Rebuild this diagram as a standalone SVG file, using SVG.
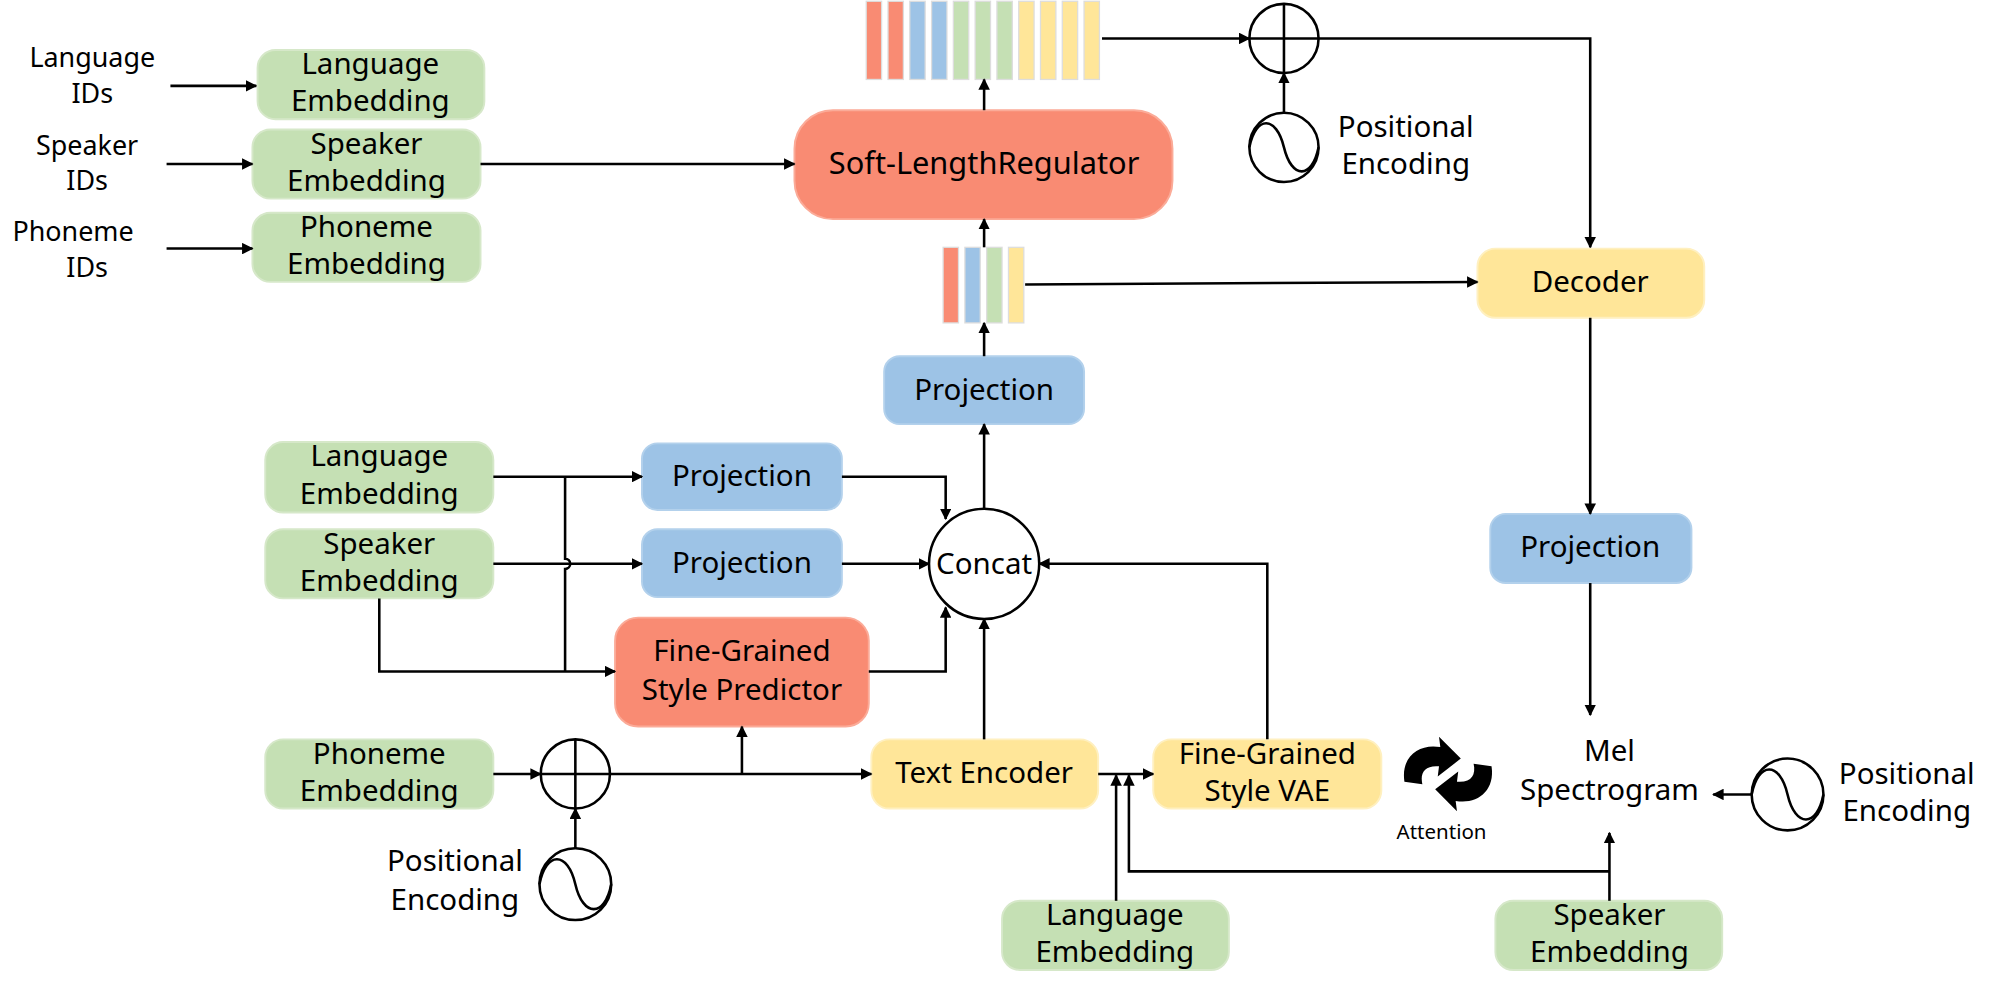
<svg xmlns="http://www.w3.org/2000/svg" width="1999" height="985" viewBox="0 0 1999 985">
<defs>
<marker id="ah" viewBox="0 0 10 10" refX="9" refY="5" markerWidth="9" markerHeight="9" markerUnits="userSpaceOnUse" orient="auto"><path d="M0,0 L10,5 L0,10 z" fill="#000"/></marker>
<style>
text{font-family:"Noto Sans","Open Sans",sans-serif;font-size:23px;fill:#000;text-anchor:middle}
.in{font-size:21px}
.g{fill:#c5e0b4;stroke:#d6e8c9;stroke-width:1.5}
.b{fill:#9dc3e6;stroke:#b3d1ec;stroke-width:1.5}
.y{fill:#ffe699;stroke:#fff0c0;stroke-width:1.5}
.r{fill:#f98b73;stroke:#fbab98;stroke-width:1.5}
.c{stroke:#000;stroke-width:2;fill:none}
.a{stroke:#000;stroke-width:2;fill:none;marker-end:url(#ah)}
.ring{fill:#fff;stroke:#000;stroke-width:2}
</style>
</defs>
<rect width="1999" height="985" fill="#fff"/>
<g transform="scale(1.2814)">
<g id="inputs">
<text class="in" x="72" y="52">Language</text><text class="in" x="72" y="80">IDs</text>
<text class="in" x="68" y="121">Speaker</text><text class="in" x="68" y="148">IDs</text>
<text class="in" x="57" y="188">Phoneme</text><text class="in" x="68" y="216">IDs</text>
</g>
<g id="lang_emb1"><rect class="g" x="201" y="39" width="177" height="54" rx="14"/><text x="289" y="58">Language</text><text x="289" y="87">Embedding</text></g>
<g id="spk_emb1"><rect class="g" x="197" y="101" width="178" height="54" rx="14"/><text x="286" y="120">Speaker</text><text x="286" y="149">Embedding</text></g>
<g id="ph_emb1"><rect class="g" x="197" y="166" width="178" height="54" rx="14"/><text x="286" y="185">Phoneme</text><text x="286" y="214">Embedding</text></g>
<g id="slr"><rect class="r" x="620" y="86" width="295" height="85" rx="30"/><text x="768" y="136" style="font-size:24px">Soft-LengthRegulator</text></g>
<g id="bars_top">
<rect x="676" y="1" width="12" height="61" fill="#f98b73" stroke="#ddd"/>
<rect x="693" y="1" width="12" height="61" fill="#f98b73" stroke="#ddd"/>
<rect x="710" y="1" width="12" height="61" fill="#9dc3e6" stroke="#ddd"/>
<rect x="727" y="1" width="12" height="61" fill="#9dc3e6" stroke="#ddd"/>
<rect x="744" y="1" width="12" height="61" fill="#c5e0b4" stroke="#ddd"/>
<rect x="761" y="1" width="12" height="61" fill="#c5e0b4" stroke="#ddd"/>
<rect x="778" y="1" width="12" height="61" fill="#c5e0b4" stroke="#ddd"/>
<rect x="795" y="1" width="12" height="61" fill="#ffe699" stroke="#ddd"/>
<rect x="812" y="1" width="12" height="61" fill="#ffe699" stroke="#ddd"/>
<rect x="829" y="1" width="12" height="61" fill="#ffe699" stroke="#ddd"/>
<rect x="846" y="1" width="12" height="61" fill="#ffe699" stroke="#ddd"/>
</g>
<g id="bars_mid">
<rect x="736" y="193" width="12" height="59" fill="#f98b73" stroke="#ddd"/>
<rect x="753" y="193" width="12" height="59" fill="#9dc3e6" stroke="#ddd"/>
<rect x="770" y="193" width="12" height="59" fill="#c5e0b4" stroke="#ddd"/>
<rect x="787" y="193" width="12" height="59" fill="#ffe699" stroke="#ddd"/>
</g>
<g id="plus_top"><circle class="ring" cx="1002" cy="30" r="27"/><path class="c" d="M975,30 H1029 M1002,3 V57"/></g>
<g id="pe_top"><circle class="ring" cx="1002" cy="115" r="27"/><path class="c" d="M975,115 C980,90 996,90 1002,115 C1008,140 1024,140 1029,115"/><text x="1097" y="107">Positional</text><text x="1097" y="136">Encoding</text></g>
<g id="decoder"><rect class="y" x="1153" y="194" width="177" height="54" rx="14"/><text x="1241" y="228">Decoder</text></g>
<g id="proj_top"><rect class="b" x="690" y="278" width="156" height="53" rx="12"/><text x="768" y="312">Projection</text></g>
<g id="concat"><circle class="ring" cx="768" cy="440" r="43"/><text x="768" y="448">Concat</text></g>
<g id="lang_emb2"><rect class="g" x="207" y="345" width="178" height="55" rx="14"/><text x="296" y="364">Language</text><text x="296" y="393">Embedding</text></g>
<g id="spk_emb2"><rect class="g" x="207" y="413" width="178" height="54" rx="14"/><text x="296" y="432">Speaker</text><text x="296" y="461">Embedding</text></g>
<g id="proj1"><rect class="b" x="501" y="346" width="156" height="52" rx="12"/><text x="579" y="379">Projection</text></g>
<g id="proj2"><rect class="b" x="501" y="413" width="156" height="53" rx="12"/><text x="579" y="447">Projection</text></g>
<g id="fgsp"><rect class="r" x="480" y="482" width="198" height="85" rx="18"/><text x="579" y="516">Fine-Grained</text><text x="579" y="546">Style Predictor</text></g>
<g id="ph_emb2"><rect class="g" x="207" y="577" width="178" height="54" rx="14"/><text x="296" y="596">Phoneme</text><text x="296" y="625">Embedding</text></g>
<g id="plus_bot"><circle class="ring" cx="449" cy="604" r="27"/><path class="c" d="M422,604 H476 M449,577 V631"/></g>
<g id="pe_bot"><circle class="ring" cx="449" cy="690" r="28"/><path class="c" d="M421,690 C426,664 443,664 449,690 C455,716 472,716 477,690"/><text x="355" y="680">Positional</text><text x="355" y="710">Encoding</text></g>
<g id="text_enc"><rect class="y" x="680" y="577" width="177" height="54" rx="14"/><text x="768" y="611">Text Encoder</text></g>
<g id="vae"><rect class="y" x="900" y="577" width="178" height="54" rx="14"/><text x="989" y="596">Fine-Grained</text><text x="989" y="625">Style VAE</text></g>
<g id="attention">
<path d="M1096,610 C1093,590 1108,580 1124,583 L1123,575 L1140,592 L1122,606 L1123,598 C1112,597 1108,603 1110,612 Z" fill="#000"/>
<path d="M1164,598 C1167,618 1152,628 1136,625 L1137,633 L1120,616 L1138,602 L1137,610 C1148,611 1152,605 1150,596 Z" fill="#000"/>
<text x="1125" y="655" style="font-size:16px">Attention</text>
</g>
<g id="mel"><text x="1256" y="594">Mel</text><text x="1256" y="624">Spectrogram</text></g>
<g id="proj_right"><rect class="b" x="1163" y="401" width="157" height="54" rx="12"/><text x="1241" y="435">Projection</text></g>
<g id="pe_right"><circle class="ring" cx="1395" cy="620" r="28"/><path class="c" d="M1367,620 C1372,594 1389,594 1395,620 C1401,646 1418,646 1423,620"/><text x="1488" y="612">Positional</text><text x="1488" y="641">Encoding</text></g>
<g id="lang_emb3"><rect class="g" x="782" y="703" width="177" height="54" rx="14"/><text x="870" y="722">Language</text><text x="870" y="751">Embedding</text></g>
<g id="spk_emb3"><rect class="g" x="1167" y="703" width="177" height="54" rx="14"/><text x="1256" y="722">Speaker</text><text x="1256" y="751">Embedding</text></g>
<g id="connectors">
<path class="a" d="M133,67 H200"/>
<path class="a" d="M130,128 H197"/>
<path class="a" d="M130,194 H197"/>
<path class="a" d="M375,128 H620"/>
<path class="a" d="M768,86 V62"/>
<path class="a" d="M860,30 H975"/>
<path class="a" d="M1029,30 H1241 V193"/>
<path class="a" d="M1002,88 V57"/>
<path class="a" d="M768,193 V171"/>
<path class="a" d="M800,222 L1153,220"/>
<path class="a" d="M768,278 V252"/>
<path class="a" d="M768,397 V331"/>
<path class="a" d="M385,372 H501"/>
<path class="a" d="M657,372 H738 V405"/>
<path class="a" d="M385,440 H501"/>
<path class="a" d="M657,440 H725"/>
<path class="c" d="M441,372 V436 A4,4 0 0 1 441,444 V524"/>
<path class="a" d="M296,467 V524 H480"/>
<path class="a" d="M678,524 H738 V474"/>
<path class="a" d="M385,604 H422"/>
<path class="a" d="M449,662 V631"/>
<path class="a" d="M476,604 H680"/>
<path class="a" d="M579,604 V567"/>
<path class="a" d="M768,577 V483"/>
<path class="a" d="M857,604 H900"/>
<path class="a" d="M989,577 V440 H811"/>
<path class="a" d="M1241,248 V401"/>
<path class="a" d="M1241,455 V558"/>
<path class="a" d="M1367,620 H1337"/>
<path class="a" d="M871,703 V605"/>
<path class="a" d="M1256,703 V650"/>
<path class="a" d="M1256,680 H881 V605"/>
</g>
</g>
</svg>
